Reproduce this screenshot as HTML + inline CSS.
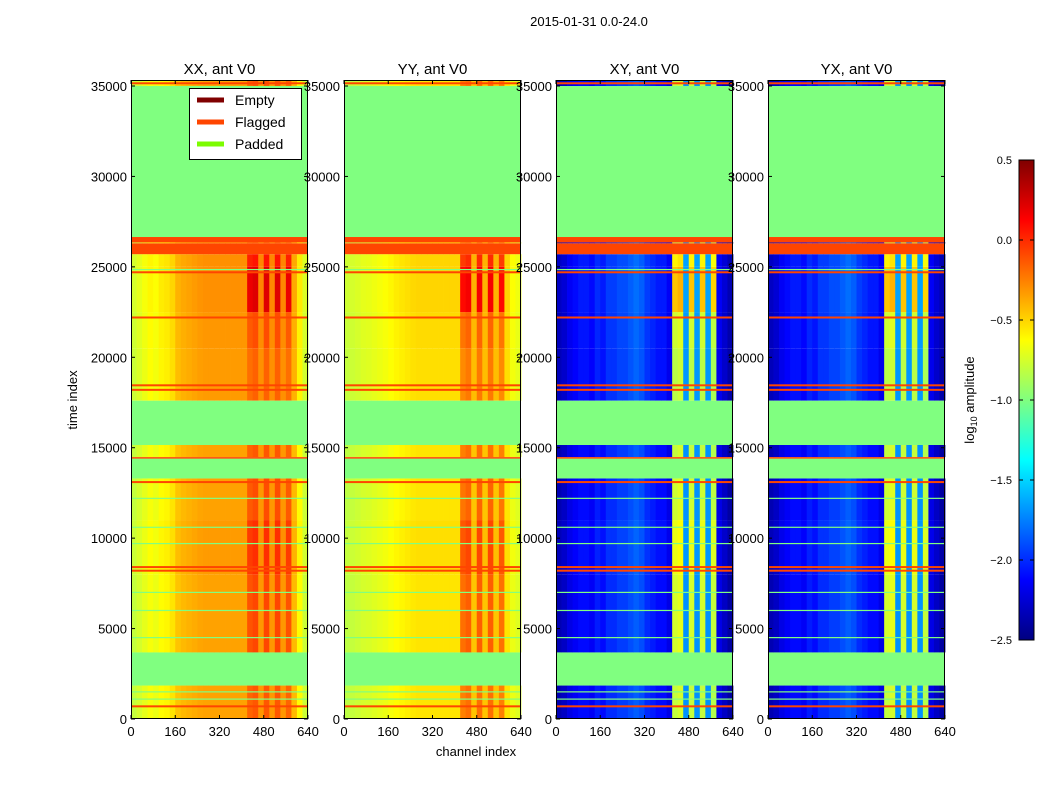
<!DOCTYPE html>
<html><head><meta charset="utf-8"><style>
body{margin:0;background:#fff;}
svg{display:block;font-family:"Liberation Sans",sans-serif;}
</style></head><body>
<svg id="fig" width="1050" height="800" viewBox="0 0 1050 800">
<rect width="1050" height="800" fill="#fff"/>
<text x="589" y="26" font-size="13" text-anchor="middle">2015-01-31 0.0-24.0</text>
<text x="476" y="756" font-size="13" text-anchor="middle">channel index</text>
<text x="77" y="400" font-size="13" text-anchor="middle" transform="rotate(-90 77 400)">time index</text>
<g id="panels"></g>
<defs><linearGradient id="jetg" x1="0" y1="1" x2="0" y2="0">
<stop offset="0" stop-color="#000080"/><stop offset="0.125" stop-color="#0000ff"/><stop offset="0.375" stop-color="#00ffff"/><stop offset="0.5" stop-color="#80ff80"/><stop offset="0.625" stop-color="#ffff00"/><stop offset="0.875" stop-color="#ff0000"/><stop offset="1" stop-color="#800000"/>
</linearGradient></defs>
<g id="cbar"></g>
<text x="974" y="400" font-size="13" text-anchor="middle" transform="rotate(-90 974 400)">log<tspan font-size="9" dy="3">10</tspan><tspan dy="-3"> amplitude</tspan></text>
<g>
<rect x="189.5" y="88.5" width="112" height="71" fill="#fff" stroke="#000"/>
<line x1="197" y1="100" x2="224" y2="100" stroke="#800000" stroke-width="5"/>
<text x="235" y="105" font-size="14">Empty</text>
<line x1="197" y1="122" x2="224" y2="122" stroke="#ff4500" stroke-width="5"/>
<text x="235" y="127" font-size="14">Flagged</text>
<line x1="197" y1="144" x2="224" y2="144" stroke="#7cfc00" stroke-width="5"/>
<text x="235" y="149" font-size="14">Padded</text>
</g>
</svg>
<script>
const panelTitles=["XX, ant V0","YY, ant V0","XY, ant V0","YX, ant V0"];
const xTicks=[0,160,320,480,640];
const yTicks=[0,5000,10000,15000,20000,25000,30000,35000];
const cbTicks=[0.5,0.0,-0.5,-1.0,-1.5,-2.0,-2.5];
// channel profiles, 32 bins of 20 channels, log10 amplitude
const profXX=[-0.8,-0.75,-0.7,-0.65,-0.68,-0.62,-0.6,-0.55,-0.45,-0.42,-0.4,-0.38,-0.36,-0.35,-0.35,-0.35,-0.35,-0.35,-0.35,-0.35,-0.35,-0.22,-0.18,-0.32,-0.18,-0.32,-0.18,-0.32,-0.22,-0.42,-0.62,-0.78];
const profYY=[-0.82,-0.8,-0.78,-0.75,-0.74,-0.72,-0.7,-0.68,-0.65,-0.62,-0.6,-0.58,-0.56,-0.55,-0.55,-0.55,-0.55,-0.55,-0.55,-0.55,-0.55,-0.3,-0.25,-0.45,-0.25,-0.45,-0.25,-0.45,-0.3,-0.55,-0.68,-0.72];
const profXY=[-2.35,-2.3,-2.2,-2.15,-2.1,-2.1,-2.15,-2.05,-2.1,-2.0,-2.0,-1.95,-1.95,-1.9,-1.85,-1.9,-2.0,-2.05,-2.1,-2.1,-2.2,-0.85,-0.8,-1.7,-0.85,-1.7,-0.85,-1.7,-0.9,-2.2,-2.3,-2.4];
const profYX=[-2.35,-2.3,-2.2,-2.15,-2.1,-2.1,-2.15,-2.05,-2.1,-2.0,-2.0,-1.95,-1.95,-1.9,-1.85,-1.9,-2.0,-2.05,-2.1,-2.1,-2.2,-0.85,-0.8,-1.7,-0.85,-1.7,-0.85,-1.7,-0.9,-2.2,-2.3,-2.4];
const profiles=[profXX,profYY,profXY,profYX];
// time segments of valid data
const segStart=[0,3680,8000,11000,14480,17600,20500,22500,25000,26300,35000];
const segEnd=[1850,8000,11000,13300,15150,20500,22500,25000,25700,26350,35332];
const segOffset=[0,0,0.02,0,0,0.02,0.03,0.05,0.05,0,0];
const segBoost=[0.05,0.1,0.15,0.08,0.05,0.0,0.05,0.35,0.2,0,0.05];
// padded / flagged bands
const padStart=[1850,13300,15150,26650];
const padEnd=[3680,14400,17600,35000];
const flagStart=[14400,25700,26350];
const flagEnd=[14480,26300,26650];
const flagLines=[700,8200,8400,13100,18200,18450,22200,24700,35150];
const padLines=[1100,1500,4500,6000,7000,9700,10600,12200,24850];
const panelX=[131,344,556,768];
const PW=177,PT=80,PB=719,TMAX=35332;
const NS="http://www.w3.org/2000/svg";
function xs(i,c){return panelX[i]+c*PW/640;}
function ys(t){return PB-t*(PB-PT)/TMAX;}
function jet(v){let n=(v+2.5)/3;n=Math.max(0,Math.min(1,n));
 const st=[[0,0,0,128],[0.125,0,0,255],[0.375,0,255,255],[0.5,128,255,128],[0.625,255,255,0],[0.875,255,0,0],[1,128,0,0]];
 for(let k=1;k<st.length;k++){if(n<=st[k][0]){const a=st[k-1],b=st[k],f=(n-a[0])/(b[0]-a[0]);
 return `rgb(${Math.round(a[1]+f*(b[1]-a[1]))},${Math.round(a[2]+f*(b[2]-a[2]))},${Math.round(a[3]+f*(b[3]-a[3]))})`;}}return "#800000";}
function mk(tag,attrs,parent){const e=document.createElementNS(NS,tag);for(const k in attrs)e.setAttribute(k,attrs[k]);parent.appendChild(e);return e;}
const root=document.getElementById("panels");
for(let i=0;i<4;i++){
 const g=mk("g",{},root);
 
 
 const x0=panelX[i];
 for(let s=0;s<segStart.length;s++){
  for(let c=0;c<32;c++){
   let v=profiles[i][c]+segOffset[s];
   if(c>=21&&c<=28&&profiles[i][c]>profiles[i][c-1]-0.01)v+=segBoost[s];
   const y1=ys(segEnd[s]),y2=ys(segStart[s]);
   const r=mk("rect",{x:xs(i,c*20),y:y1,width:PW/32+0.4,height:y2-y1,fill:jet(v)},g);
   
   
  }
 }
 for(let k=0;k<padStart.length;k++){const y1=ys(padEnd[k]),y2=ys(padStart[k]);
  const r=mk("rect",{x:x0,y:y1,width:PW,height:y2-y1,fill:"#80ff80"},g);
  
  }
 for(let k=0;k<flagStart.length;k++){const y1=ys(flagEnd[k]),y2=ys(flagStart[k]);
  const r=mk("rect",{x:x0,y:y1,width:PW,height:Math.max(1.5,y2-y1),fill:"#ff4500"},g);
  
  }
 for(const t of flagLines){const r=mk("rect",{x:x0,y:ys(t)-1,width:PW,height:2,fill:"#ff4500"},g);
  
  }
 for(const t of padLines){const r=mk("rect",{x:x0,y:ys(t)-0.6,width:PW,height:1.2,fill:"#80ff80"},g);
  
  }
 const fr=mk("rect",{x:x0+0.5,y:PT+0.5,width:PW-1,height:PB-PT-1,fill:"none",stroke:"#000","stroke-width":1},g);
 
 
 const ti=mk("text",{x:x0+PW/2,y:74,"font-size":15,"text-anchor":"middle"},g);ti.textContent=panelTitles[i];
 
 
 for(const t of xTicks){const x=xs(i,t);
  mk("line",{x1:x,y1:PB,x2:x,y2:PB-4,stroke:"#000"},g);mk("line",{x1:x,y1:PT,x2:x,y2:PT+4,stroke:"#000"},g);
  const tx=mk("text",{x:x,y:PB+17,"font-size":13,"text-anchor":"middle"},g);tx.textContent=t;
  
  }
 for(const t of yTicks){const y=ys(t);
  mk("line",{x1:x0,y1:y,x2:x0+4,y2:y,stroke:"#000"},g);mk("line",{x1:x0+PW,y1:y,x2:x0+PW-4,y2:y,stroke:"#000"},g);
  const tx=mk("text",{x:x0-4,y:y+5,"font-size":13,"text-anchor":"end"},g);tx.textContent=t;
  
  }
}
const cb=document.getElementById("cbar");
const cbT=160,cbB=640,cbX=1019,cbW=15;
mk("rect",{x:cbX,y:cbT,width:cbW,height:cbB-cbT,fill:"url(#jetg)",stroke:"#000"},cb);
for(const v of cbTicks){const y=cbB-(v+2.5)/3*(cbB-cbT);
 mk("line",{x1:cbX,y1:y,x2:cbX+4,y2:y,stroke:"#000"},cb);mk("line",{x1:cbX+cbW,y1:y,x2:cbX+cbW-4,y2:y,stroke:"#000"},cb);
 const tx=mk("text",{x:1012,y:y+4,"font-size":11,"text-anchor":"end"},cb);tx.textContent=v.toFixed(1).replace("-","\u2212");
 
 }
</script>
</body></html>
